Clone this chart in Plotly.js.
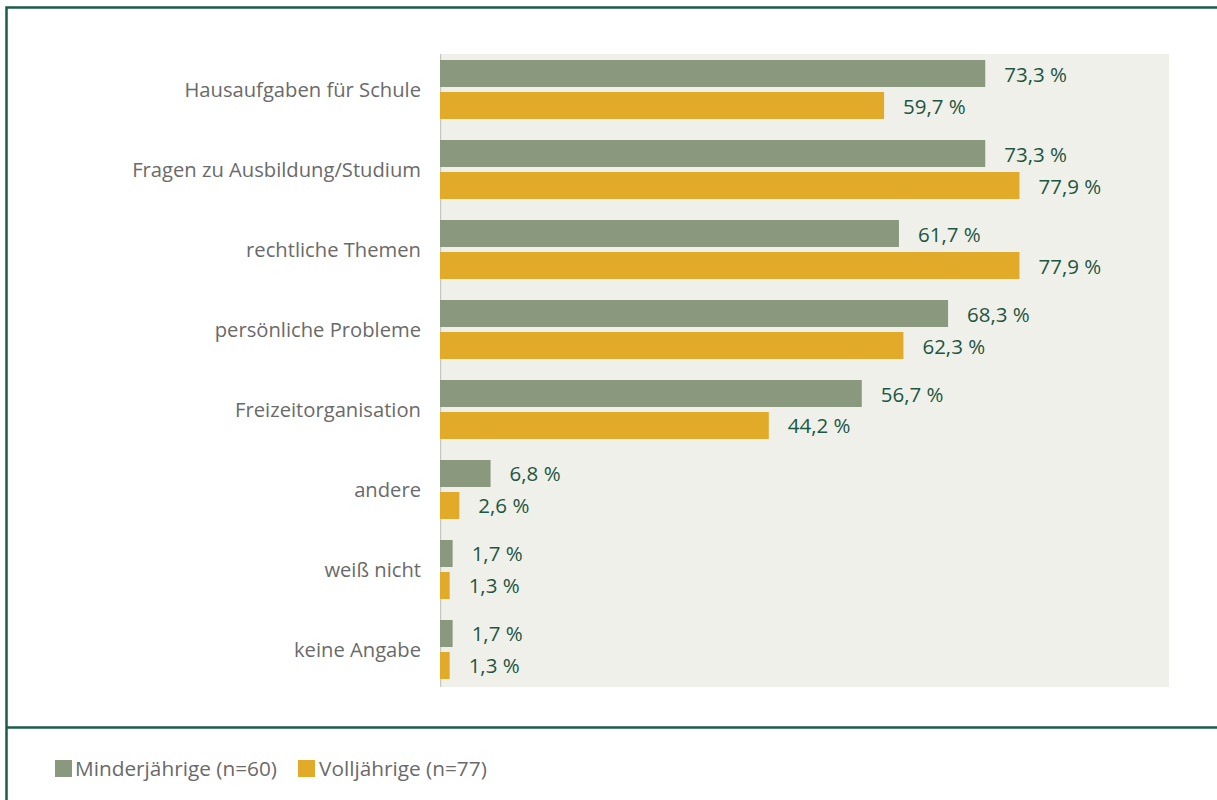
<!DOCTYPE html>
<html><head><meta charset="utf-8">
<script src="https://cdn.plot.ly/plotly-3.0.1.min.js"></script>
<style>html,body{margin:0;padding:0;background:#fff;}#chart{width:1217px;height:800px;}</style>
</head><body><div id="chart"></div>
<script>
const categories = ["Hausaufgaben für Schule","Fragen zu Ausbildung/Studium","rechtliche Themen","persönliche Probleme","Freizeitorganisation","andere","weiß nicht","keine Angabe"];
const minderjaehrige = [73.3, 73.3, 61.7, 68.3, 56.7, 6.8, 1.7, 1.7];
const volljaehrige = [59.7, 77.9, 77.9, 62.3, 44.2, 2.6, 1.3, 1.3];
const seriesNames = ["Minderjährige (n=60)", "Volljährige (n=77)"];
const seriesColors = ["#8a997e", "#e1aa29"];

const W = 1217, H = 800;
const M = {l: 440, r: 48, t: 54, b: 113};
const pw = W - M.l - M.r, ph = H - M.t - M.b;
const px = x => (x - M.l) / pw;
const py = y => (H - M.b - y) / ph;
const fmt = v => v.toFixed(1).replace('.', ',') + ' %';
const FONT = "Open Sans, sans-serif";

const series = [minderjaehrige, volljaehrige];
const data = series.map((vals, i) => ({
  type: 'bar', orientation: 'h', name: seriesNames[i],
  y: categories, x: vals,
  marker: {color: seriesColors[i]},
  text: vals.map(fmt),
  texttemplate: '\u00a0\u00a0\u00a0%{text}',
  textposition: 'outside', constraintext: 'none', cliponaxis: false,
  textfont: {family: FONT, size: 20.5, color: '#1d5641'},
  hoverinfo: 'skip'
}));

const shapes = [
  {type: 'line', xref: 'x', yref: 'paper', x0: 0, x1: 0, y0: 0, y1: 1, layer: 'below', line: {color: '#c6c6c2', width: 2.5}},
  {type: 'rect', xref: 'paper', yref: 'paper', x0: px(6.5), x1: px(1240), y0: py(7.5), y1: py(820), line: {color: '#1d5c46', width: 2.5}},
  {type: 'line', xref: 'paper', yref: 'paper', x0: px(6.5), x1: px(1240), y0: py(727.5), y1: py(727.5), line: {color: '#1d5c46', width: 2.5}}
];
const annotations = [];
const legX = [[55, 73], [298, 317]];
seriesNames.forEach((n, i) => {
  shapes.push({type: 'rect', xref: 'paper', yref: 'paper', x0: px(legX[i][0]), x1: px(legX[i][0] + 17), y0: py(760), y1: py(777), fillcolor: seriesColors[i], line: {width: 0}});
  annotations.push({xref: 'paper', yref: 'paper', x: px(legX[i][1]), y: py(768.5), xanchor: 'left', yanchor: 'middle', showarrow: false, text: n, font: {family: FONT, size: 20.8, color: '#6a6a6a'}});
});

const layout = {
  width: W, height: H, margin: M,
  paper_bgcolor: '#ffffff', plot_bgcolor: '#f0f0eb',
  showlegend: false,
  barmode: 'group', bargap: 0.2, bargroupgap: 0.156,
  font: {family: FONT},
  xaxis: {range: [0, 98], showgrid: false, zeroline: false, showticklabels: false, ticks: '', showline: false, fixedrange: true},
  yaxis: {type: 'category', range: [7.469, -0.444], showgrid: false, zeroline: false, ticks: '', showline: false,
    ticklabelstandoff: 18, tickfont: {family: FONT, size: 20.2, color: '#6a6a6a'}},
  shapes: shapes, annotations: annotations
};
Plotly.newPlot('chart', data, layout, {staticPlot: true});
</script></body></html>
